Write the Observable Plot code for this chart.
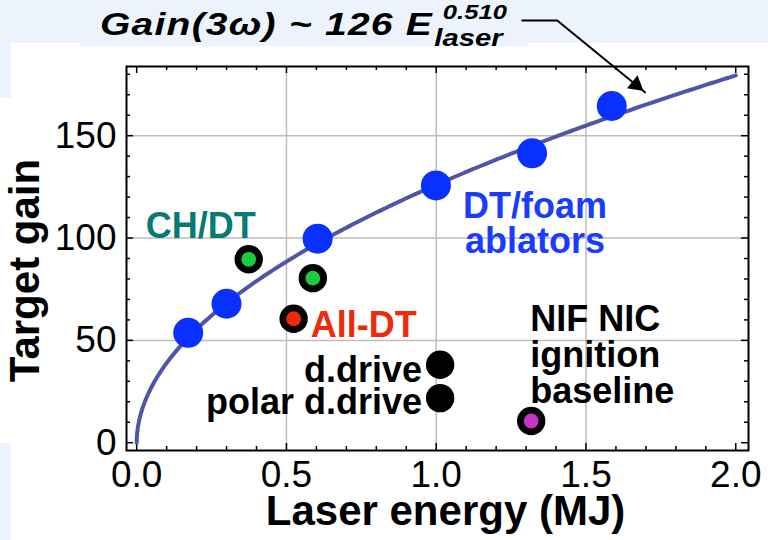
<!DOCTYPE html>
<html>
<head>
<meta charset="utf-8">
<script src="https://cdn.jsdelivr.net/npm/d3@7"></script>
<script src="https://cdn.jsdelivr.net/npm/@observablehq/plot@0.6"></script>
<style>
  html, body { margin: 0; padding: 0; background: #ffffff; }
  #wrap { position: relative; width: 768px; height: 540px; overflow: hidden;
          font-family: "Liberation Sans", Arial, Helvetica, sans-serif; }
  .band { position: absolute; background: #edf3fd; }
  #chart { position: absolute; left: 0; top: 0; }
  #title { position: absolute; left: 100px; top: 6px; white-space: nowrap;
           transform: scaleX(1.22); transform-origin: 0 0;
           font-weight: bold; font-style: italic; font-size: 32px; line-height: 36px;
           letter-spacing: 1px; color: #000; }
  #title .scripts { position: relative; display: inline-block; width: 66px; height: 30px; vertical-align: top; }
  #title .sup { position: absolute; left: 8px; top: -6px; font-size: 21px; line-height: 24px; letter-spacing: 0; }
  #title .sub { position: absolute; left: 1px; top: 18px; font-size: 24px; line-height: 28px; letter-spacing: 0; }
</style>
</head>
<body>
<div id="wrap">
  <div class="band" style="left:0;top:0;width:768px;height:43px"></div>
  <div class="band" style="left:80px;top:0;width:447px;height:46px"></div>
  <div class="band" style="left:0;top:43px;width:11px;height:55px"></div>
  <div class="band" style="left:0;top:443px;width:11px;height:97px"></div>
  <div id="chart"></div>
  <div id="title">Gain(3ω) ~ 126 E<span class="scripts"><span class="sup">0.510</span><span class="sub">laser</span></span></div>
</div>
<script>
// Fitted scaling law: Gain = 126 * E^0.510
const fitCoef = 126;
const fitExp = 0.510;

// DT/foam ablator designs
const foamEnergy = [0.172, 0.300, 0.604, 0.999, 1.320, 1.586];
const foamGain   = [53.7, 67.9, 99.7, 125.7, 141.4, 164.5];

// CH/DT designs
const chdtEnergy = [0.374, 0.588];
const chdtGain   = [89.6, 80.4];

// All-DT design
const allDtEnergy = [0.524];
const allDtGain   = [60.6];

// Direct drive and polar direct drive
const ddriveEnergy = [1.013];
const ddriveGain   = [38.1];
const polarEnergy  = [1.013];
const polarGain    = [21.8];

// NIF NIC ignition baseline
const nicEnergy = [1.317];
const nicGain   = [10.6];

// Axis ticks
const xMajor = [0, 0.5, 1.0, 1.5, 2.0];
const yMajor = [0, 50, 100, 150];
const xGrid = [0.5, 1.0, 1.5];
const yGrid = [50, 100, 150];
const xMinor = d3.range(0, 21).filter(i => i % 5 !== 0).map(i => i / 10);
const yMinor = d3.range(0, 19).filter(i => i % 5 !== 0).map(i => i * 10);

// Pointer from the formula to the fitted curve
const pointerEnergy = [1.287, 1.404, 1.697];
const pointerGain   = [206.3, 206.3, 171.2];

const rows = (xs, ys) => xs.map((x, i) => ({energy: x, gain: ys[i]}));
const foam = rows(foamEnergy, foamGain);
const chdt = rows(chdtEnergy, chdtGain);
const allDt = rows(allDtEnergy, allDtGain);
const ddrive = rows(ddriveEnergy, ddriveGain);
const polar = rows(polarEnergy, polarGain);
const nic = rows(nicEnergy, nicGain);
const pointer = rows(pointerEnergy, pointerGain);

const fitEnergy = [0, 0.0005, 0.001, 0.002, 0.004, 0.007, 0.01, 0.015, 0.02, 0.03, 0.04, 0.05]
  .concat(d3.range(0.06, 2.0001, 0.01));
const fit = fitEnergy.map(e => ({energy: e, gain: fitCoef * Math.pow(e, fitExp)}));

const fs = {fontWeight: "bold", fontSize: 36};
const frameW = 768 - 126 - 20;
const frameH = 540 - 66 - 90;

const chart = Plot.plot({
  width: 768,
  height: 540,
  marginLeft: 126,
  marginRight: 20,
  marginTop: 66,
  marginBottom: 90,
  x: {domain: [-0.034, 2.0425]},
  y: {domain: [-3.8, 183.8]},
  style: {
    fontFamily: "'Liberation Sans', Arial, Helvetica, sans-serif",
    fontSize: "37px",
    background: "transparent",
    overflow: "visible",
    color: "black"
  },
  marks: [
    Plot.gridX(xGrid, {stroke: "#bdbdbd", strokeOpacity: 1, strokeWidth: 1.5}),
    Plot.gridY(yGrid, {stroke: "#bdbdbd", strokeOpacity: 1, strokeWidth: 1.5}),

    // inward ticks on all four sides
    Plot.tickX(xMinor, {x: d => d, insetTop: frameH - 4, stroke: "black", strokeWidth: 1.5}),
    Plot.tickX(xMajor, {x: d => d, insetTop: frameH - 7, stroke: "black", strokeWidth: 1.5}),
    Plot.tickX(xMinor, {x: d => d, insetBottom: frameH - 4, stroke: "black", strokeWidth: 1.5}),
    Plot.tickX(xMajor, {x: d => d, insetBottom: frameH - 7, stroke: "black", strokeWidth: 1.5}),
    Plot.tickY(yMinor, {y: d => d, insetRight: frameW - 4, stroke: "black", strokeWidth: 1.5}),
    Plot.tickY(yMajor, {y: d => d, insetRight: frameW - 7, stroke: "black", strokeWidth: 1.5}),
    Plot.tickY(yMinor, {y: d => d, insetLeft: frameW - 4, stroke: "black", strokeWidth: 1.5}),
    Plot.tickY(yMajor, {y: d => d, insetLeft: frameW - 7, stroke: "black", strokeWidth: 1.5}),

    Plot.axisX(xMajor, {anchor: "bottom", tickSize: 0, tickPadding: 10, tickFormat: d3.format(".1f"), label: null, fontSize: 37}),
    Plot.axisY(yMajor, {anchor: "left", tickSize: 0, tickPadding: 10, label: null, fontSize: 37}),

    // fitted curve
    Plot.line(fit, {x: "energy", y: "gain", stroke: "#5055a8", strokeWidth: 4}),

    // pointer
    Plot.line(pointer, {x: "energy", y: "gain", stroke: "black", strokeWidth: 2}),
    Plot.dot(pointer.slice(-1), {x: "energy", y: "gain", symbol: "triangle2", r: 8, fill: "black",
      rotate: 129, dx: -9, dy: -7.5}),

    // design points
    Plot.dot(foam, {x: "energy", y: "gain", r: 15, fill: "#0a30ff"}),
    Plot.dot(chdt, {x: "energy", y: "gain", r: 10.8, fill: "#1ccc3c", stroke: "black", strokeWidth: 6.8}),
    Plot.dot(allDt, {x: "energy", y: "gain", r: 10.8, fill: "#f02810", stroke: "black", strokeWidth: 6.8}),
    Plot.dot(ddrive, {x: "energy", y: "gain", r: 14.2, fill: "black"}),
    Plot.dot(polar, {x: "energy", y: "gain", r: 14.2, fill: "black"}),
    Plot.dot(nic, {x: "energy", y: "gain", r: 10.8, fill: "#c833c8", stroke: "black", strokeWidth: 6.8}),

    Plot.frame({stroke: "black", strokeWidth: 2}),

    // series labels
    Plot.text(chdt.slice(0, 1), {x: "energy", y: "gain", text: () => "CH/DT", ...fs,
      fill: "#067a73", textAnchor: "start", lineAnchor: "middle", dx: -103, dy: -32.5}),
    Plot.text(allDt, {x: "energy", y: "gain", text: () => "All-DT", ...fs,
      fill: "#ee2a0a", textAnchor: "start", lineAnchor: "middle", dx: 17, dy: 7}),
    Plot.text(ddrive, {x: "energy", y: "gain", text: () => "d.drive", ...fs,
      fill: "black", textAnchor: "end", lineAnchor: "middle", dx: -18, dy: 6}),
    Plot.text(polar, {x: "energy", y: "gain", text: () => "polar d.drive", ...fs,
      fill: "black", textAnchor: "end", lineAnchor: "middle", dx: -18, dy: 4}),
    Plot.text(foam.slice(3, 4), {x: "energy", y: "gain", text: () => "DT/foam\nablators", ...fs,
      fill: "#1a3cff", textAnchor: "middle", lineAnchor: "middle", lineHeight: 0.97, dx: 99, dy: 38.5}),
    Plot.text(nic, {x: "energy", y: "gain", text: () => "NIF NIC\nignition\nbaseline", ...fs,
      fill: "black", textAnchor: "start", lineAnchor: "middle", lineHeight: 1, dx: -1, dy: -66}),

    // axis titles
    Plot.text(["Target gain"], {frameAnchor: "left", text: d => d, rotate: -90, textAnchor: "middle",
      lineAnchor: "middle", fontSize: 42, fontWeight: "bold", fill: "black", dx: -101, dy: 12}),
    Plot.text(["Laser energy (MJ)"], {frameAnchor: "bottom", text: d => d, textAnchor: "middle",
      lineAnchor: "middle", fontSize: 42, fontWeight: "bold", fill: "black", dx: 8, dy: 61})
  ]
});

document.getElementById("chart").appendChild(chart);
</script>
</body>
</html>
